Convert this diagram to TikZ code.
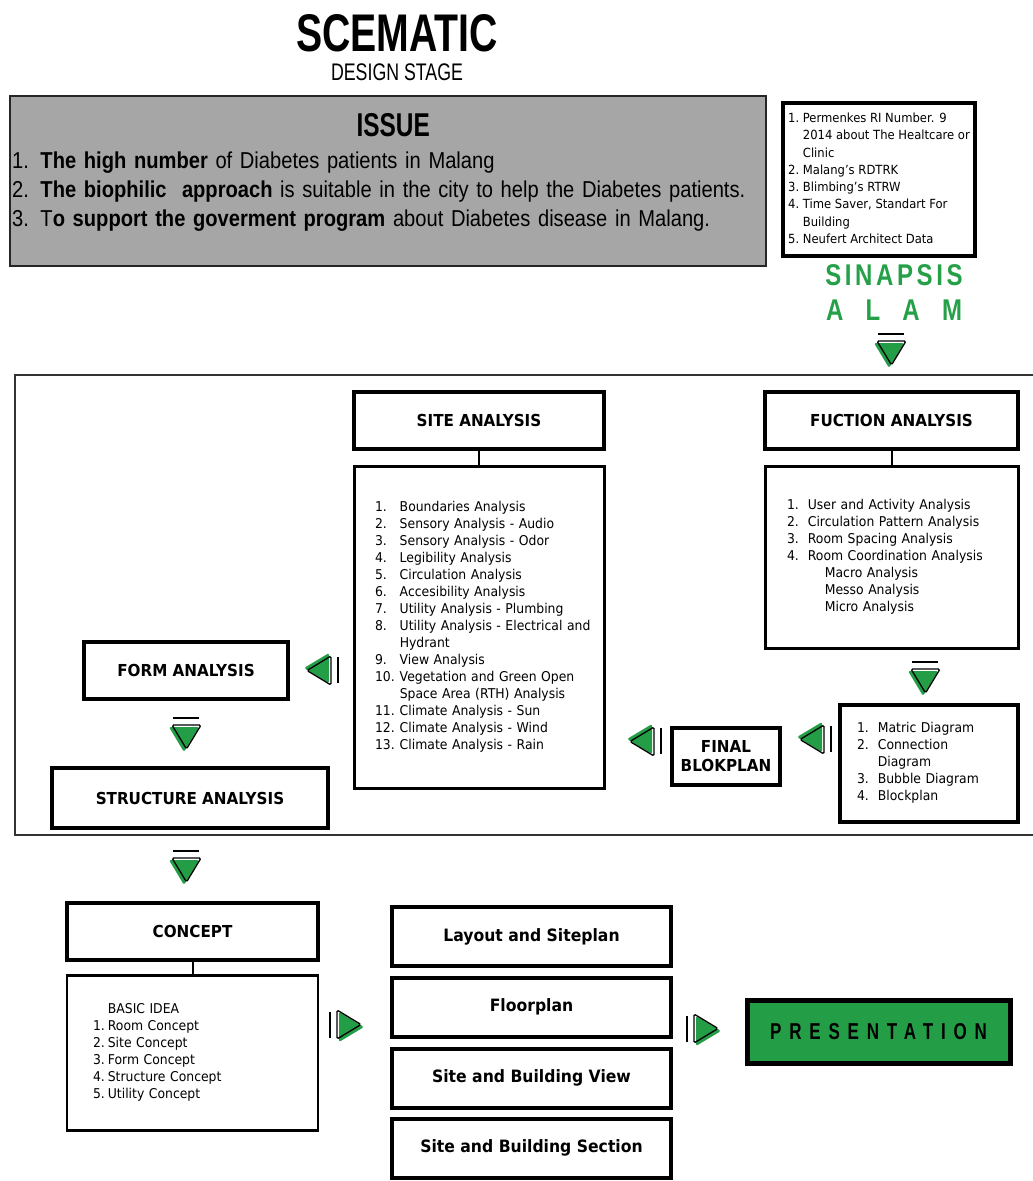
\documentclass[tikz,border=0pt]{standalone}
\usepackage{fontspec}
\usepackage{tikz}
\usetikzlibrary{positioning,calc}
\setmainfont{DejaVu Sans}[FakeStretch=0.92]
\newfontfamily\condfont{Liberation Sans}[FakeStretch=0.74]
\newfontfamily\issuefont{Liberation Sans}[FakeStretch=0.875]
\newfontfamily\alamfont{Liberation Sans}[FakeStretch=0.8,LetterSpace=12]
\newfontfamily\spacedfont{Liberation Sans}[FakeStretch=0.74,LetterSpace=34]
\definecolor{issuegray}{RGB}{166,166,166}
\definecolor{alamgreen}{RGB}{38,160,72}
\definecolor{trigreen}{RGB}{36,158,70}

\begin{document}
\begin{tikzpicture}[x=1pt,y=-1pt,
  hdr/.style={draw, line width=4pt, fill=white, minimum width=#1, minimum height=57,
              inner sep=0pt, align=center, font=\fontsize{16.5}{19}\selectfont\bfseries},
  hdr/.default=250,
  lst/.style={draw, line width=3pt, fill=white, text width=#1, align=left, inner ysep=0pt,
              font=\fontsize{13.5}{17}\selectfont},
  outbox/.style={draw, line width=4pt, fill=white, minimum width=279, minimum height=59,
                 inner sep=0pt, font=\fontsize{17}{19}\selectfont\bfseries},
  link/.style={line width=2pt},
  downtri/.pic={
    \draw[line width=1.6pt] (-13,-18) -- (13,-18);
    \fill[trigreen, rounded corners=1.5pt] (-17,-9) -- (13,-9) -- (-2,16) -- cycle;
    \draw[line width=1.3pt, rounded corners=1.5pt] (-14,-11) -- (15,-11) -- (0.5,13) -- cycle;
  }
]
\useasboundingbox (0,0) rectangle (1033,1181);

% title
\node[inner sep=0pt, font=\condfont\fontsize{53}{53}\selectfont\bfseries] (title) at (397,33) {SCEMATIC};
\node[inner sep=0pt, font=\condfont\fontsize{24}{24}\selectfont] (stage) at (397,72) {DESIGN STAGE};

% issue
\node[draw=black!85, line width=2pt, fill=issuegray, minimum width=756, minimum height=170,
      inner sep=0pt] (issue) at (388,181) {};
\node[anchor=north west, inner sep=0pt, text width=752, align=left,
      font=\issuefont\fontsize{23}{29}\selectfont] (issuetxt) at ($(issue.north west)+(3,18)$)
  {\makebox[762pt]{\condfont\fontsize{33}{33}\selectfont\bfseries ISSUE}\\[3pt]
   1. \textbf{The high number} of Diabetes patients in Malang\\
   2. \textbf{The biophilic\ \ approach} is suitable in the city to help the Diabetes patients.\\
   3. T\textbf{o support the goverment program} about Diabetes disease in Malang.};

% regulations
\node[draw, line width=4pt, minimum width=192, minimum height=153, inner sep=0pt,
      font=\fontsize{12.6}{17.3}\selectfont] (rules) at (879,179.5)
  {\begin{tabular}{@{}l@{\ }l@{}}
   1. & Permenkes RI Number. 9\\
      & 2014 about The Healtcare or\\
      & Clinic\\
   2. & Malang’s RDTRK\\
   3. & Blimbing’s RTRW\\
   4. & Time Saver, Standart For\\
      & Building\\
   5. & Neufert Architect Data
   \end{tabular}};
\node[text=alamgreen, font=\alamfont\fontsize{30}{35}\selectfont\bfseries, align=center,
      inner sep=0pt] (alam) at (894,293)
  {SINAPSIS\\\makebox[136pt][s]{A L A M}};

% analysis frame
\draw[line width=2pt, black!80] (15,375) rectangle (1050,835);

\node[hdr] (site) at (479,420.5) {SITE ANALYSIS};
\node[lst=208, inner xsep=21pt, minimum height=322, below=14pt of site] (sitelist)
  {\begin{tabular}{@{}l@{\hspace{5pt}}l@{}}
   1. & Boundaries Analysis\\
   2. & Sensory Analysis - Audio\\
   3. & Sensory Analysis - Odor\\
   4. & Legibility Analysis\\
   5. & Circulation Analysis\\
   6. & Accesibility Analysis\\
   7. & Utility Analysis - Plumbing\\
   8. & Utility Analysis - Electrical and\\
      & Hydrant\\
   9. & View Analysis\\
   10. & Vegetation and Green Open\\
      & Space Area (RTH) Analysis\\
   11. & Climate Analysis - Sun\\
   12. & Climate Analysis - Wind\\
   13. & Climate Analysis - Rain
   \end{tabular}};
\draw[link] (site) -- (sitelist);

\node[hdr=253] (func) at (891.5,420.5) {FUCTION ANALYSIS};
\node[lst=209, inner xsep=22pt, minimum height=182, below=14pt of func] (funclist)
  {\begin{tabular}{@{}l@{\hspace{9pt}}l@{}}
   1. & User and Activity Analysis\\
   2. & Circulation Pattern Analysis\\
   3. & Room Spacing Analysis\\
   4. & Room Coordination Analysis\\
      & \hspace{17pt}Macro Analysis\\
      & \hspace{17pt}Messo Analysis\\
      & \hspace{17pt}Micro Analysis
   \end{tabular}};
\draw[link] (func) -- (funclist);

\node[lst=144, inner xsep=17pt, minimum height=117, line width=4pt] (blocklist) at (929,763.5)
  {\begin{tabular}{@{}l@{\hspace{9pt}}l@{}}
   1. & Matric Diagram\\
   2. & Connection\\
      & Diagram\\
   3. & Bubble Diagram\\
   4. & Blockplan
   \end{tabular}};
\node[hdr=108] (final) at (726,756.5) {FINAL\\BLOKPLAN};
\node[hdr=204] (form) at (186,670.5) {FORM ANALYSIS};
\node[hdr=276, minimum height=60] (struct) at (190,798) {STRUCTURE ANALYSIS};

% concept
\node[hdr=251] (concept) at (192.5,931.5) {CONCEPT};
\node[lst=199, inner xsep=26pt, minimum height=155, line width=2.5pt, below=12pt of concept] (conceptlist)
  {\begin{tabular}{@{}l@{\hspace{3pt}}l@{}}
      & BASIC IDEA\\
   1. & Room Concept\\
   2. & Site Concept\\
   3. & Form Concept\\
   4. & Structure Concept\\
   5. & Utility Concept
   \end{tabular}};
\draw[link] (concept) -- (conceptlist);

\node[outbox] (layout) at (531.5,936.5) {Layout and Siteplan};
\node[outbox] (floor) at (531.5,1007) {Floorplan};
\node[outbox] (view) at (531.5,1078) {Site and Building View};
\node[outbox] (section) at (531.5,1148) {Site and Building Section};

\node[draw, line width=5pt, fill=trigreen, minimum width=263, minimum height=63, inner sep=0pt,
      font=\spacedfont\fontsize{23}{23}\selectfont\bfseries] (present) at (878.5,1031.5) {PRESENTATION};

% flow arrows
\pic at (891,352) {downtri};
\pic at (925,680) {downtri};
\pic at (186,736) {downtri};
\pic at (186,869) {downtri};
\pic[rotate=-90] at (813,739) {downtri};
\pic[rotate=-90] at (643,741) {downtri};
\pic[rotate=-90] at (320,670) {downtri};
\pic[rotate=90] at (348,1025) {downtri};
\pic[rotate=90] at (705,1029) {downtri};
\end{tikzpicture}
\end{document}
